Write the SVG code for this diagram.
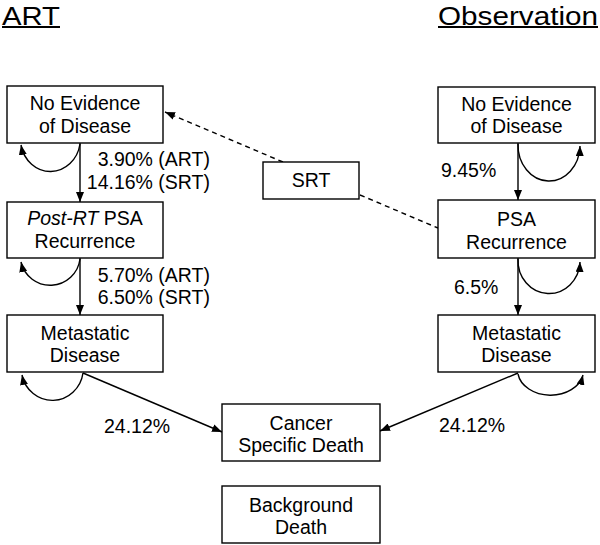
<svg xmlns="http://www.w3.org/2000/svg" width="600" height="545" viewBox="0 0 600 545">
<style>
text{font-family:"Liberation Sans",Arial,sans-serif;font-size:19.5px;fill:#000}
.box{fill:#fff;stroke:#000;stroke-width:1.4}
.c{text-anchor:middle}
.e{text-anchor:end}
.ln{fill:none;stroke:#000;stroke-width:1.4}
.d{stroke-dasharray:5,4}
.h{font-size:26.5px}
</style>
<defs>
<marker id="ah" viewBox="0 0 10 8" refX="10" refY="4" markerWidth="10" markerHeight="8" markerUnits="userSpaceOnUse" orient="auto">
<path d="M0,0 L10,4 L0,8 z" fill="#000"/>
</marker>
</defs>
<g id="titles">
<text x="2" y="24.5" class="h" textLength="58" lengthAdjust="spacingAndGlyphs">ART</text>
<rect x="2" y="26" width="58" height="2" fill="#000"/>
<text x="438" y="24.5" class="h" textLength="160" lengthAdjust="spacingAndGlyphs">Observation</text>
<rect x="438" y="26" width="160" height="2" fill="#000"/>
</g>
<g id="connectors">
<line class="ln" x1="80" y1="143" x2="80" y2="202" marker-end="url(#ah)"/>
<line class="ln" x1="80" y1="258" x2="80" y2="315" marker-end="url(#ah)"/>
<line class="ln" x1="518" y1="143" x2="518" y2="200" marker-end="url(#ah)"/>
<line class="ln" x1="518" y1="258" x2="518" y2="315" marker-end="url(#ah)"/>
<line class="ln" x1="83" y1="373" x2="222" y2="432" marker-end="url(#ah)"/>
<line class="ln" x1="518" y1="373" x2="380" y2="431" marker-end="url(#ah)"/>
<line class="ln d" x1="283" y1="162" x2="165" y2="112" marker-end="url(#ah)"/>
<line class="ln d" x1="360" y1="195" x2="438" y2="228"/>
<path class="ln" d="M80,144 A30,33 0 0 1 21,145" marker-end="url(#ah)"/>
<path class="ln" d="M80,259 A30,30 0 0 1 21,262" marker-end="url(#ah)"/>
<path class="ln" d="M83,373 A31,32 0 0 1 22,375" marker-end="url(#ah)"/>
<path class="ln" d="M518,144 A31,36 0 0 0 580,146" marker-end="url(#ah)"/>
<path class="ln" d="M518,259 A31,33 0 0 0 580,262" marker-end="url(#ah)"/>
<path class="ln" d="M518,374 A33,25 0 0 0 583,375" marker-end="url(#ah)"/>
</g>
<g id="labels">
<text x="210" y="166" class="e">3.90% (ART)</text>
<text x="210" y="189" class="e">14.16% (SRT)</text>
<text x="210" y="282" class="e">5.70% (ART)</text>
<text x="210" y="304" class="e">6.50% (SRT)</text>
<text x="441" y="177">9.45%</text>
<text x="454" y="294">6.5%</text>
<text x="104" y="433">24.12%</text>
<text x="439" y="432">24.12%</text>
</g>
<g id="art-ned">
<rect class="box" x="7" y="86" width="156" height="57"/>
<text x="85" y="110" class="c">No Evidence</text>
<text x="85" y="133" class="c">of Disease</text>
</g>
<g id="art-psa">
<rect class="box" x="7" y="202" width="156" height="56"/>
<text x="85" y="225" class="c"><tspan font-style="italic">Post-RT</tspan> PSA</text>
<text x="85" y="248" class="c">Recurrence</text>
</g>
<g id="art-met">
<rect class="box" x="7" y="315" width="156" height="57"/>
<text x="85" y="340" class="c">Metastatic</text>
<text x="85" y="362" class="c">Disease</text>
</g>
<g id="obs-ned">
<rect class="box" x="438" y="87" width="157" height="56"/>
<text x="516.5" y="111" class="c">No Evidence</text>
<text x="516.5" y="133" class="c">of Disease</text>
</g>
<g id="obs-psa">
<rect class="box" x="438" y="200" width="157" height="58"/>
<text x="516.5" y="226" class="c">PSA</text>
<text x="516.5" y="249" class="c">Recurrence</text>
</g>
<g id="obs-met">
<rect class="box" x="438" y="315" width="157" height="57"/>
<text x="516.5" y="340" class="c">Metastatic</text>
<text x="516.5" y="362" class="c">Disease</text>
</g>
<g id="srt">
<rect class="box" x="263" y="162" width="96" height="37"/>
<text x="311" y="187" class="c">SRT</text>
</g>
<g id="csd">
<rect class="box" x="222" y="404" width="158" height="57"/>
<text x="301" y="430" class="c">Cancer</text>
<text x="301" y="452" class="c">Specific Death</text>
</g>
<g id="bgd">
<rect class="box" x="222" y="486" width="158" height="57"/>
<text x="301" y="512" class="c">Background</text>
<text x="301" y="534" class="c">Death</text>
</g>
</svg>
